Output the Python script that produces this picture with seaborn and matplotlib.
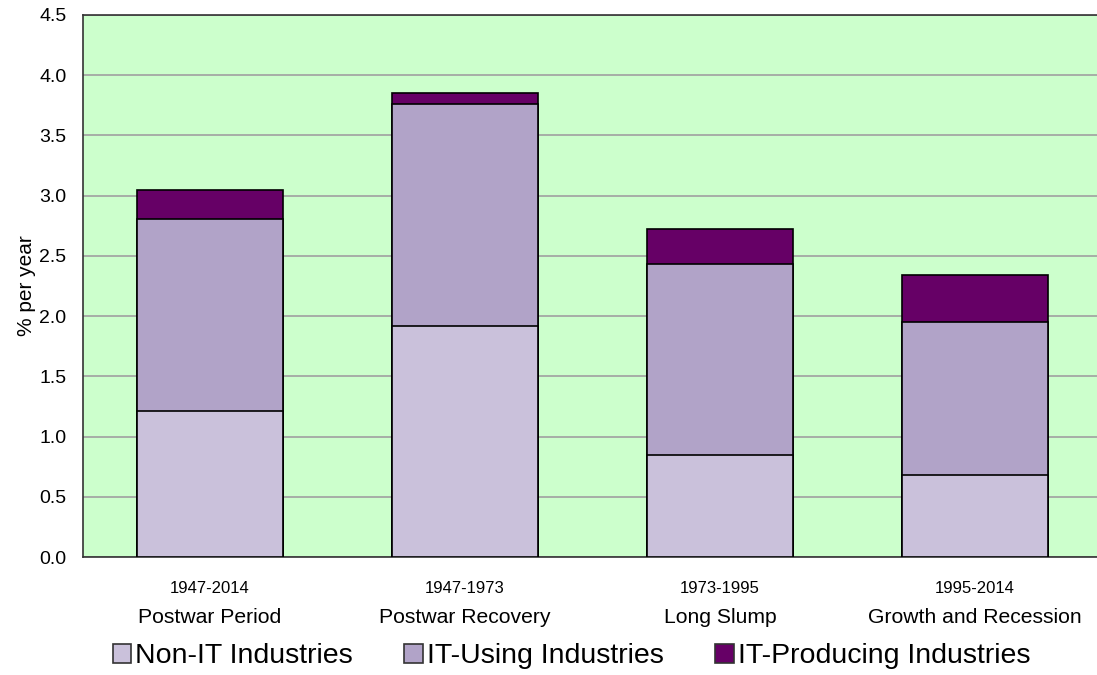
import seaborn as sns
import pandas as pd
import matplotlib.pyplot as plt
from matplotlib.patches import Patch

periods = ["1947-2014", "1947-1973", "1973-1995", "1995-2014"]
names = ["Postwar Period", "Postwar Recovery", "Long Slump", "Growth and Recession"]
non_it = [1.21, 1.92, 0.85, 0.68]
it_using = [1.60, 1.84, 1.58, 1.27]
it_producing = [0.24, 0.09, 0.29, 0.39]

series = ["Non-IT Industries", "IT-Using Industries", "IT-Producing Industries"]
colors = ["#CAC1DB", "#B1A3C8", "#660066"]

sns.set_style("white")
plt.rcParams['font.family'] = ['Liberation Sans', 'DejaVu Sans']
plt.rcParams['text.color'] = 'black'
plt.rcParams['axes.labelcolor'] = 'black'
plt.rcParams['xtick.color'] = 'black'
plt.rcParams['ytick.color'] = 'black'

df = pd.DataFrame({"period": periods, "non_it": non_it, "it_using": it_using,
                   "it_producing": it_producing})
df["lvl1"] = df["non_it"]
df["lvl2"] = df["lvl1"] + df["it_using"]
df["lvl3"] = df["lvl2"] + df["it_producing"]

fig = plt.figure(figsize=(10.97, 6.75), dpi=100)
ax = fig.add_axes([0.0757, 0.1748, 1 - 0.0757, 0.803])
ax.set_facecolor("#CCFFCC")

# stacked bars: draw cumulative totals from the top down
for col, c in zip(["lvl3", "lvl2", "lvl1"], colors[::-1]):
    sns.barplot(x="period", y=col, data=df, color=c, saturation=1, width=0.57,
                edgecolor="black", linewidth=1.2, ax=ax, zorder=3)

ax.set_ylim(0, 4.5)
ax.set_xlim(-0.498, 3.478)
ax.set_yticks([i * 0.5 for i in range(10)])
ax.set_yticklabels([f"{i * 0.5:.1f}" for i in range(10)], fontsize=14)
ax.yaxis.grid(True, color="#A0A0A0", linewidth=1.2, zorder=0)
ax.set_axisbelow(True)
ax.tick_params(axis="y", length=0, pad=12)
ax.tick_params(axis="x", length=0, pad=17, labelsize=12)
ax.set_xlabel("")
ax.set_ylabel("% per year", fontsize=15, labelpad=2)

for i, n in enumerate(names):
    ax.text(i, -0.5, n, ha="center", va="center", fontsize=15.2,
            transform=ax.transData, clip_on=False)

for side in ["left", "top", "bottom"]:
    ax.spines[side].set_color("#333333")
    ax.spines[side].set_linewidth(1.2)
ax.spines["right"].set_visible(False)

patches = [Patch(facecolor=c, edgecolor="#333333", linewidth=1.2, label=s)
           for s, c in zip(series, colors)]
fig.legend(handles=patches, loc="center", bbox_to_anchor=(0.521, 0.028), ncol=3,
           frameon=False, fontsize=20.5, handlelength=0.65, handleheight=0.65,
           handletextpad=0.15, columnspacing=1.8)

fig.savefig("out.png", dpi=100)
